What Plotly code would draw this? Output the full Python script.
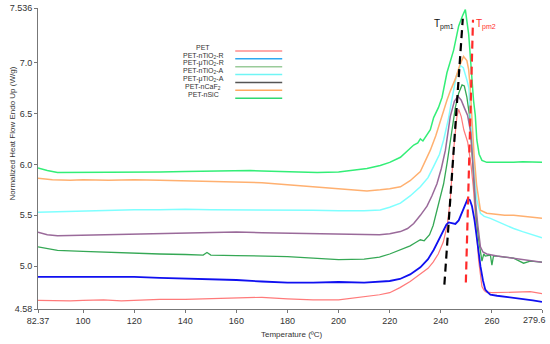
import plotly.graph_objects as go

# ---------------- data ----------------
pet_T = [82.37, 88, 95, 100, 108, 115, 120, 130, 140, 150, 160, 170, 180, 190, 200, 205, 210, 216, 220, 224, 228, 232, 235, 237, 239, 241, 242.5, 243.7, 245, 246.3, 247, 248, 249, 250.5, 251.8, 252.7, 253.5, 254.2, 254.8, 255.5, 256.1, 257, 257.8, 260, 265, 271, 275, 279.6]
pet_v = [4.665, 4.66, 4.66, 4.665, 4.67, 4.66, 4.665, 4.675, 4.675, 4.68, 4.69, 4.695, 4.68, 4.67, 4.67, 4.685, 4.70, 4.72, 4.74, 4.79, 4.85, 4.92, 4.98, 5.04, 5.12, 5.24, 5.40, 5.65, 6.14, 6.47, 6.54, 6.47, 6.34, 6.22, 6.0, 5.78, 5.50, 5.28, 5.06, 4.92, 4.80, 4.76, 4.745, 4.74, 4.745, 4.745, 4.75, 4.73]

ntio2r_T = [82.37, 90, 100, 110, 120, 130, 140, 150, 160, 170, 180, 190, 200, 210, 216, 220, 224, 228, 232, 235, 237.2, 239, 241.1, 242.2, 243.1, 244.3, 245.7, 247, 248.3, 249.5, 250.5, 251.4, 252.2, 253.2, 254.2, 255.5, 256.5, 257.4, 258.5, 259.4, 262, 265, 268.5, 272, 276, 279.6]
ntio2r_v = [4.895, 4.895, 4.90, 4.90, 4.895, 4.885, 4.88, 4.875, 4.865, 4.85, 4.84, 4.84, 4.845, 4.84, 4.845, 4.855, 4.875, 4.92, 4.99, 5.07, 5.16, 5.25, 5.36, 5.41, 5.43, 5.425, 5.415, 5.45, 5.52, 5.60, 5.66, 5.65, 5.59, 5.45, 5.26, 5.0, 4.86, 4.77, 4.74, 4.72, 4.71, 4.70, 4.695, 4.68, 4.665, 4.65]

mtio2r_T = [82.37, 86, 90, 100, 110, 120, 130, 140, 147, 148.5, 150, 160, 170, 180, 190, 200, 210, 216, 220, 224, 228, 230, 232, 233.5, 235.6, 237, 238.5, 240, 241.1, 242.5, 243.7, 245, 245.7, 247, 248.3, 249.2, 250.2, 251.3, 252, 252.8, 253.8, 254.8, 255.5, 256.1, 256.8, 257.4, 259.4, 260, 260.6, 262, 265, 268.5, 270, 272.4, 275, 279.6]
mtio2r_v = [5.19, 5.17, 5.155, 5.145, 5.135, 5.125, 5.12, 5.115, 5.11, 5.135, 5.11, 5.105, 5.10, 5.095, 5.08, 5.065, 5.07, 5.09, 5.12, 5.16, 5.20, 5.23, 5.26, 5.25, 5.31, 5.40, 5.55, 5.68, 5.81, 6.02, 6.24, 6.46, 6.56, 6.70, 6.78, 6.77, 6.66, 6.47, 6.20, 5.81, 5.50, 5.26, 5.12, 5.05, 5.12, 5.10, 5.11, 5.01, 5.10, 5.10, 5.09, 5.08, 5.06, 5.03, 5.05, 5.04]

ntio2a_T = [82.37, 90, 100, 110, 120, 130, 140, 150, 160, 170, 180, 190, 200, 210, 216.3, 220, 224.2, 228, 232, 235, 237.2, 239.5, 241.1, 243, 244.5, 246, 247.7, 248.8, 250.2, 251, 251.5, 252.2, 252.8, 253.5, 254.1, 255.5, 257, 259.4, 262, 265, 268.5, 272, 276, 279.6]
ntio2a_v = [5.53, 5.535, 5.545, 5.55, 5.555, 5.555, 5.56, 5.555, 5.555, 5.555, 5.55, 5.55, 5.545, 5.545, 5.553, 5.58, 5.62, 5.69, 5.78, 5.87, 5.98, 6.10, 6.24, 6.45, 6.66, 6.86, 6.97, 6.95, 6.83, 6.75, 6.47, 6.25, 5.98, 5.78, 5.65, 5.52, 5.49, 5.47, 5.44, 5.41, 5.37, 5.34, 5.31, 5.28]

mtio2a_T = [82.37, 86, 90, 100, 110, 120, 130, 140, 150, 160, 170, 180, 190, 200, 210, 216, 220, 224.2, 227, 229.4, 232, 234.6, 236.5, 238.5, 240.2, 241.8, 243.7, 245.3, 246.7, 248, 249.3, 250.5, 251.8, 252.7, 253.5, 254.5, 255.5, 256.5, 258, 262, 265, 268.5, 272, 276, 279.6]
mtio2a_v = [5.335, 5.31, 5.30, 5.305, 5.31, 5.315, 5.32, 5.325, 5.33, 5.335, 5.33, 5.325, 5.32, 5.315, 5.31, 5.31, 5.32, 5.34, 5.37, 5.42, 5.50, 5.59, 5.69, 5.81, 5.96, 6.14, 6.47, 6.62, 6.67, 6.63, 6.55, 6.48, 6.30, 5.98, 5.65, 5.40, 5.19, 5.14, 5.12, 5.10, 5.09, 5.08, 5.07, 5.055, 5.04]

ncaf2_T = [82.37, 88, 95, 100, 110, 120, 130, 140, 150, 160, 170, 180, 191.6, 200, 205, 211.1, 216.3, 220, 224.2, 228, 232, 235.9, 238, 239.8, 241, 242.4, 243.7, 245.7, 247.5, 248.9, 250.2, 250.9, 251.5, 252.2, 253, 254, 255.5, 258, 262, 265, 268.5, 272, 276, 279.6]
ncaf2_v = [5.865, 5.85, 5.845, 5.85, 5.845, 5.85, 5.845, 5.84, 5.835, 5.83, 5.82, 5.80, 5.78, 5.765, 5.75, 5.74, 5.75, 5.76, 5.78, 5.84, 5.93, 6.14, 6.28, 6.43, 6.53, 6.63, 6.72, 6.84, 6.98, 7.06, 7.02, 6.93, 6.76, 6.45, 6.10, 5.80, 5.55, 5.52, 5.51, 5.50, 5.50, 5.49, 5.48, 5.47]

nsic_T = [82.37, 86, 90, 100, 110, 120, 130, 140, 150, 160, 165.5, 170, 180, 191.6, 200, 205, 211.1, 216.3, 220, 224.2, 227, 229.4, 231, 232, 233, 235.9, 237.2, 239.1, 240.5, 242.4, 245, 247, 248.5, 249.6, 250.9, 251.6, 252.2, 252.8, 253.5, 254.1, 255, 256.1, 258, 262, 265, 268.5, 272, 276, 279.6]
nsic_v = [5.965, 5.94, 5.92, 5.92, 5.92, 5.925, 5.925, 5.93, 5.935, 5.935, 5.94, 5.935, 5.93, 5.92, 5.925, 5.94, 5.96, 5.99, 6.02, 6.07, 6.13, 6.19, 6.21, 6.25, 6.23, 6.34, 6.46, 6.56, 6.66, 6.90, 7.12, 7.36, 7.46, 7.52, 7.28, 7.05, 6.79, 6.63, 6.48, 6.24, 6.10, 6.04, 6.02, 6.02, 6.015, 6.02, 6.025, 6.02, 6.02]

tpm1_T = [241.4, 248.6]
tpm1_v = [4.82, 7.43]
tpm2_T = [249.8, 252.6]
tpm2_v = [4.84, 7.42]

legend_names = ["PET", "PET-nTiO<sub>2</sub>-R", "PET-μTiO<sub>2</sub>-R", "PET-nTiO<sub>2</sub>-A",
                "PET-μTiO<sub>2</sub>-A", "PET-nCaF<sub>2</sub>", "PET-nSiC"]
legend_colors = ["#FF8C8C", "#2FA8F0", "#9ACB9A", "#70F5F5", "#555555", "#FFA860", "#2FD870"]

x_tickvals = [82.37, 100, 120, 140, 160, 180, 200, 220, 240, 260, 279.6]
x_ticktext = ["82.37", "100", "120", "140", "160", "180", "200", "220", "240", "260", "279.6"]
y_tickvals = [4.58, 5.0, 5.5, 6.0, 6.5, 7.0, 7.536]
y_ticktext = ["4.58", "5.0", "5.5", "6.0", "6.5", "7.0", "7.536"]

# ---------------- figure ----------------
series = [
    (pet_T, pet_v, "#FF7A7A", 1.2),
    (ntio2r_T, ntio2r_v, "#1010F0", 1.8),
    (mtio2r_T, mtio2r_v, "#35A855", 1.3),
    (ntio2a_T, ntio2a_v, "#7FFFFF", 1.5),
    (mtio2a_T, mtio2a_v, "#9A6A9A", 1.5),
    (ncaf2_T, ncaf2_v, "#FFB070", 1.5),
    (nsic_T, nsic_v, "#33EE77", 1.5),
]

fig = go.Figure()
for T, v, c, w in series:
    fig.add_trace(go.Scatter(x=T, y=v, mode="lines", line=dict(color=c, width=w),
                             showlegend=False, hoverinfo="skip"))

fig.add_trace(go.Scatter(x=tpm1_T, y=tpm1_v, mode="lines",
                         line=dict(color="black", width=2.2, dash="8px,5px"),
                         showlegend=False, hoverinfo="skip"))
fig.add_trace(go.Scatter(x=tpm2_T, y=tpm2_v, mode="lines",
                         line=dict(color="#FF2A2A", width=2.2, dash="8px,5px"),
                         showlegend=False, hoverinfo="skip"))

W, H = 550, 344
ml, mr, mt, mb = 37.6, 8, 7.5, 34.5
pw, ph = W - ml - mr, H - mt - mb


def px(xp):
    return (xp - ml) / pw


def py(yp):
    return (H - mb - yp) / ph


annotations = []
shapes = []
for i, (name, col) in enumerate(zip(legend_names, legend_colors)):
    ty = 47.3 + 7.9 * i
    ly = ty + 3.3
    annotations.append(dict(x=px(203), y=py(ty), xref="paper", yref="paper", text=name,
                            showarrow=False, xanchor="center", yanchor="middle",
                            font=dict(size=7, color="#333333")))
    shapes.append(dict(type="line", xref="paper", yref="paper", x0=px(235), x1=px(282),
                       y0=py(ly), y1=py(ly), line=dict(color=col, width=1.5)))

annotations.append(dict(x=tpm1_T[1] - 2.6, y=7.37, xref="x", yref="y", text="T<sub>pm1</sub>",
                        showarrow=False, xanchor="right", yanchor="middle",
                        font=dict(size=10, color="#111111")))
annotations.append(dict(x=tpm2_T[1] + 0.3, y=7.37, xref="x", yref="y", text="T<sub>pm2</sub>",
                        showarrow=False, xanchor="left", yanchor="middle",
                        font=dict(size=10, color="#FF2A2A")))

# axis titles and the last x tick label (shifted inward as in the reference)
annotations.append(dict(x=px(291), y=py(335), xref="paper", yref="paper", text="Temperature (ºC)",
                        showarrow=False, xanchor="center", yanchor="middle",
                        font=dict(size=8, color="#333333")))
annotations.append(dict(x=px(12), y=py(133), xref="paper", yref="paper",
                        text="Normalized Heat Flow Endo Up (W/g)", textangle=-90,
                        showarrow=False, xanchor="center", yanchor="middle",
                        font=dict(size=8, color="#333333")))
annotations.append(dict(x=px(548), y=py(321), xref="paper", yref="paper", text=x_ticktext[-1],
                        showarrow=False, xanchor="right", yanchor="middle",
                        font=dict(size=9, color="#333333")))
x_ticktext_axis = x_ticktext[:-1] + [""]

fig.update_layout(
    width=W, height=H,
    margin=dict(l=ml, r=mr, t=mt, b=mb, pad=0),
    paper_bgcolor="white", plot_bgcolor="white",
    font=dict(family="Arial, Liberation Sans, sans-serif", size=9, color="#333333"),
    annotations=annotations, shapes=shapes,
    xaxis=dict(range=[82.37, 279.6], tickmode="array", tickvals=x_tickvals, ticktext=x_ticktext_axis,
               showgrid=False, zeroline=False, showline=True, linecolor="#777777", linewidth=1,
               ticks="outside", ticklen=3, tickcolor="#777777", tickfont=dict(size=9),
               automargin=False),
    yaxis=dict(range=[4.58, 7.536], tickmode="array", tickvals=y_tickvals, ticktext=y_ticktext,
               showgrid=False, zeroline=False, showline=True, linecolor="#777777", linewidth=1,
               ticks="outside", ticklen=3, tickcolor="#777777", tickfont=dict(size=9),
               automargin=False),
)

fig.write_html("out.html", config={"displayModeBar": False},
               post_script="document.body.style.margin='0';document.body.style.padding='0';")
